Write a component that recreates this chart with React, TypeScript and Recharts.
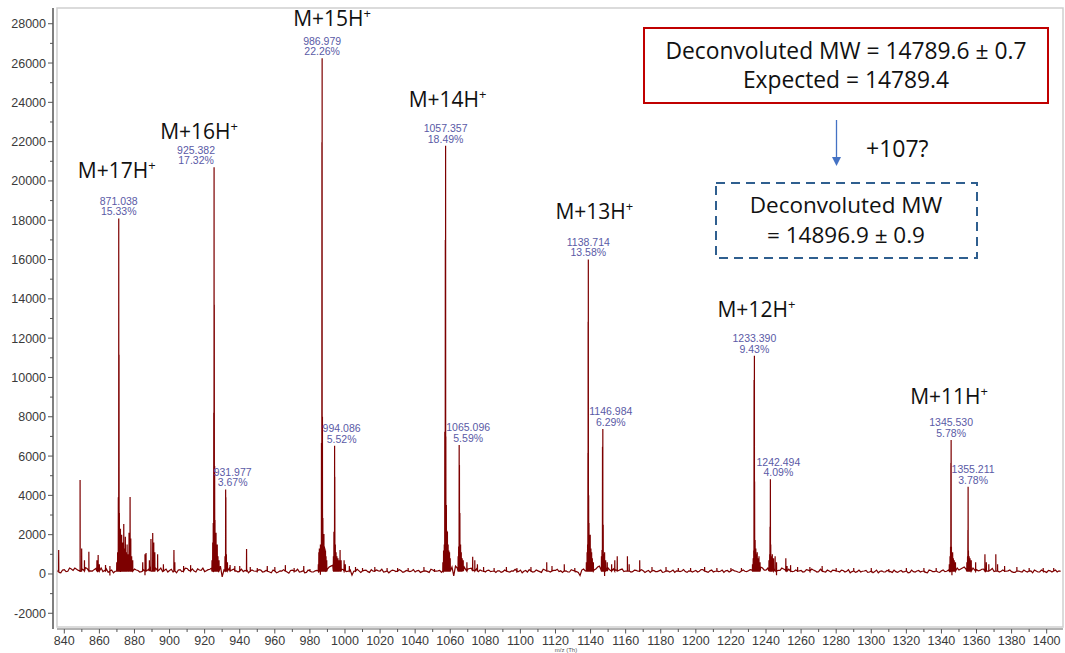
import React from 'react';
import { ComposedChart, Line, Scatter, XAxis, YAxis, ReferenceArea, ReferenceLine } from 'recharts';

// ---------- data ----------
// baseline noise, one value every 2 m/z starting at 836 (even) and 837 (odd)
const NOISE_STEP = 2;
const EVEN_START = 836;
const noiseEven: number[] = [
  150, 60, 220, 140, 250, 300, 180, 260, 320, 200, 150, 280, 200, 120, 250, -80, 60, 220, 100, 250,
  300, 400, 250, 180, 120, -60, 240, 150, 300, 200, 120, 250, 180, 100, 60, 220, 250, 280, 200, 150,
  260, 180, 120, 220, 300, 350, 120, -150, 160, 280, 220, 160, 200, 120, 220, 100, 150, 80, 200, 120,
  140, 60, 180, 100, 150, 120, 40, 200, 150, 100, 160, 80, 130, 100, 180, -40, 300, 250, 400, 500,
  350, 250, 200, 150, -60, 100, 160, 120, 200, 80, 140, 200, 150, 100, 220, 140, 180, 100, 160, 120,
  200, 150, 100, 180, 120, 160, 80, 200, 150, 180, 120, 300, 250, -100, 300, 200, 350, 250, 300, 180,
  120, 160, 100, 200, 140, 80, 160, 120, 180, 100, 150, 60, 200, 140, 100, 180, 120, 160, 80, 200,
  150, 220, 180, 120, 80, 160, 100, 180, 120, -80, 250, 150, 300, 200, 350, 200, -100, 300, 200, 220,
  180, 250, 150, 200, 120, 180, 100, 160, 140, 80, 180, 120, 200, 100, 160, 140, 80, 200, 150, 120,
  160, 100, 180, 140, 220, 120, 160, 100, 200, 140, 80, 180, 120, 160, 100, 180, 140, 160, 200, 300,
  250, 300, 200, 250, 300, -60, 180, 250, 150, 200, 140, 100, 180, 120, 200, 250, 160, 120, 180, 100,
  150, 200, 120, 100, 180, 140, 60, 160, 120, 100, 150, 80, 140, 120, 60, 160, 100, 140, 80, 120,
  140, 100, 160, 80, 120, 150, 100, 140, 60, 180, 120, 100, 160, 120, 200, -60, 250, 200, 300, 250,
  200, 300, 220, 180, 250, 160, 200, 120, 180, 140, 100, 160, 120, 80, 150, 100, 140, 120, 60, 150,
  100, 140, 80, 160, 120, 100, 140,
];
const ODD_START = 837;
const noiseOdd: number[] = [
  80, 200, 120, 300, 180, 240, 100, 200, 280, 160, 220, 120, 300, 180, 80, 200, 140, 260, 300, 350,
  400, 300, 200, 100, 220, 160, 280, 120, 200, 300, 180, 100, 240, 160, 200, 120, 300, 180, 260, 100,
  200, 300, 160, 240, 100, 300, 400, 200, 120, 180, 260, 100, 240, 180, 60, 200, 140, 220, 100, 180,
  100, 200, 60, 160, 220, 100, 180, 80, 240, 120, 60, 200, 100, 160, 60, 200, 140, 350, 450, 400,
  300, 220, 120, 200, 140, 240, 80, 180, 120, 220, 100, 160, 240, 120, 60, 200, 120, 220, 80, 180,
  120, 220, 160, 80, 200, 120, 240, 100, 160, 80, 200, 150, 350, 400, 250, 300, 200, 280, 200, 260,
  200, 100, 180, 120, 220, 160, 80, 200, 120, 160, 240, 120, 60, 180, 220, 100, 200, 120, 240, 160,
  100, 180, 240, 160, 200, 100, 220, 140, 80, 200, 160, 300, 200, 250, 400, 300, 250, 200, 260, 180,
  220, 120, 240, 100, 200, 140, 220, 80, 180, 200, 120, 160, 80, 220, 100, 200, 160, 120, 220, 80,
  200, 140, 100, 220, 160, 80, 200, 140, 120, 200, 160, 100, 220, 140, 80, 200, 120, 220, 300, 250,
  350, 200, 300, 200, 250, 180, 300, 200, 240, 120, 200, 160, 100, 220, 140, 200, 100, 240, 120, 200,
  100, 180, 140, 200, 100, 220, 120, 80, 200, 140, 180, 100, 60, 200, 140, 100, 180, 120, 200, 80,
  180, 120, 60, 200, 100, 180, 140, 80, 200, 120, 160, 80, 200, 140, 100, 250, 300, 250, 350, 300,
  250, 200, 160, 240, 120, 200, 280, 160, 100, 200, 140, 200, 80, 180, 120, 200, 100, 160, 200, 100,
  200, 120, 180, 100, 200, 160,
];

// [m/z, intensity] sticks
const minorPeaks: [number, number][] = [
  [836.8, 1220], [849.0, 4785], [849.9, 1300], [851.5, 700], [854.0, 1135], [858.6, 700], [859.3, 970],
  [860.0, 500], [863.5, 450], [866.0, 400], [884.7, 600], [886.0, 1000], [886.6, 1070], [888.5, 700],
  [889.4, 1780], [890.4, 2085], [891.0, 1600], [891.6, 1100], [893.2, 1000], [896.5, 500], [902.5, 1220],
  [903.0, 600], [908.0, 400], [912.0, 450],
];
const cluster17: [number, number][] = [
  [869.9, 600], [870.4, 1100], [870.8, 3900], [871.038, 18090], [871.2, 11150], [871.4, 3100], [871.7, 1500],
  [872.0, 2300], [872.3, 1400], [872.7, 2000], [873.0, 1200], [873.4, 1600], [873.9, 2545], [874.3, 1300],
  [874.8, 1900], [875.3, 1100], [875.8, 1500], [876.4, 1000], [876.9, 2100], [877.5, 3920], [877.9, 1800],
  [878.4, 900], [879.0, 700],
];
const cluster16: [number, number][] = [
  [924.2, 700], [924.6, 1600], [924.9, 2600], [925.2, 8200], [925.382, 20700], [925.5, 13700], [925.7, 5500],
  [925.9, 2750], [926.2, 1800], [926.5, 2100], [926.8, 1300], [927.2, 1500], [927.6, 900], [928.2, 700],
  [931.6, 900], [931.977, 4300], [932.1, 3900], [932.4, 1000], [933.0, 600], [934.5, 450], [937.2, 400],
  [940.0, 400], [943.9, 1270], [946.0, 350], [950.0, 300], [955.7, 400], [960.0, 350], [966.0, 450],
  [971.0, 300], [976.5, 400], [980.0, 250],
];
const cluster15: [number, number][] = [
  [984.8, 500], [985.1, 1100], [985.4, 1300], [985.7, 1250], [986.0, 1500], [986.3, 1400], [986.6, 6670],
  [986.85, 21970], [986.979, 26245], [987.15, 8000], [987.4, 2850], [987.7, 1600], [988.0, 2030], [988.3, 1400],
  [988.6, 1300], [988.9, 1200], [989.2, 900], [989.6, 700],
  [993.4, 900], [993.7, 2150], [994.086, 6530], [994.2, 4950], [994.5, 1500], [994.9, 1100], [995.4, 900],
  [996.0, 800], [996.6, 700], [997.2, 1220], [997.8, 700], [999.5, 700], [1000.2, 500], [1002.5, 400],
  [1006.0, 350], [1010.0, 300], [1017.0, 350], [1024.0, 300], [1030.0, 300], [1036.0, 300], [1045.0, 350],
  [1051.0, 250],
];
const cluster14: [number, number][] = [
  [1055.8, 600], [1056.2, 1200], [1056.6, 1500], [1056.9, 7240], [1057.2, 17000], [1057.357, 21785],
  [1057.5, 7000], [1057.8, 3510], [1058.1, 2200], [1058.4, 2150], [1058.8, 1500], [1059.2, 1200],
  [1059.6, 1100], [1060.0, 800],
  [1064.5, 900], [1064.8, 1400], [1065.096, 6566], [1065.25, 5550], [1065.5, 3100], [1065.9, 1500],
  [1066.3, 1100], [1066.8, 800], [1067.4, 700], [1069.5, 600], [1072.8, 880], [1074.0, 700], [1075.5, 500],
  [1079.0, 350], [1085.0, 300], [1092.0, 350], [1098.0, 300], [1106.0, 350], [1115.0, 600], [1118.0, 400],
  [1125.0, 500], [1131.0, 300],
];
const cluster13: [number, number][] = [
  [1137.6, 600], [1138.0, 1100], [1138.3, 1500], [1138.5, 6150], [1138.6, 12840], [1138.714, 16005],
  [1138.9, 4000], [1139.1, 2600], [1139.4, 1800], [1139.8, 2000], [1140.2, 1300], [1140.6, 1100],
  [1141.0, 800], [1141.6, 600],
  [1146.2, 900], [1146.5, 1220], [1146.8, 6480], [1146.984, 7382], [1147.2, 2500], [1147.5, 1000],
  [1148.0, 1100], [1148.6, 700], [1149.5, 600], [1152.0, 500], [1153.8, 700], [1155.2, 900], [1161.0, 900],
  [1162.0, 500], [1168.0, 700], [1175.0, 350], [1183.0, 350], [1190.0, 300], [1197.0, 300], [1205.0, 350],
  [1212.0, 300], [1220.0, 300], [1226.0, 300],
];
const cluster12: [number, number][] = [
  [1232.3, 500], [1232.7, 800], [1233.0, 1200], [1233.2, 9870], [1233.39, 11107], [1233.5, 4700],
  [1233.8, 1730], [1234.2, 1300], [1234.6, 1000], [1235.0, 1100], [1235.5, 800], [1236.0, 900], [1236.6, 600],
  [1241.7, 700], [1242.1, 1000], [1242.3, 2400], [1242.494, 4816], [1242.7, 1500], [1243.1, 900],
  [1243.6, 1000], [1244.3, 800], [1245.2, 900], [1246.0, 600], [1251.3, 800], [1252.0, 400], [1254.0, 450],
  [1258.0, 350], [1265.0, 350], [1272.0, 400], [1280.0, 300], [1290.0, 300], [1300.0, 300], [1310.0, 250],
  [1320.0, 300], [1330.0, 300], [1337.0, 300],
];
const cluster11: [number, number][] = [
  [1344.5, 500], [1344.9, 900], [1345.2, 1390], [1345.4, 5650], [1345.53, 6821], [1345.7, 1390],
  [1346.0, 1050], [1346.4, 1100], [1346.8, 800], [1347.3, 700], [1348.0, 600],
  [1354.5, 600], [1354.9, 900], [1355.1, 2240], [1355.211, 4440], [1355.4, 1200], [1355.8, 900],
  [1356.3, 800], [1357.0, 700], [1359.5, 600], [1364.8, 1000], [1365.6, 600], [1367.0, 500], [1371.0, 1000],
  [1372.0, 500], [1376.0, 400], [1383.0, 350], [1390.0, 300], [1398.0, 300], [1404.0, 300],
];

// labelled peaks: m/z, apex intensity, relative abundance
const labelledPeaks = [
  { mz: 871.038, y: 18090, mzText: '871.038', pct: '15.33%' },
  { mz: 925.382, y: 20700, mzText: '925.382', pct: '17.32%' },
  { mz: 931.977, y: 4300, mzText: '931.977', pct: '3.67%' },
  { mz: 986.979, y: 26245, mzText: '986.979', pct: '22.26%' },
  { mz: 994.086, y: 6530, mzText: '994.086', pct: '5.52%' },
  { mz: 1057.357, y: 21785, mzText: '1057.357', pct: '18.49%' },
  { mz: 1065.096, y: 6566, mzText: '1065.096', pct: '5.59%' },
  { mz: 1138.714, y: 16005, mzText: '1138.714', pct: '13.58%' },
  { mz: 1146.984, y: 7382, mzText: '1146.984', pct: '6.29%' },
  { mz: 1233.39, y: 11107, mzText: '1233.390', pct: '9.43%' },
  { mz: 1242.494, y: 4816, mzText: '1242.494', pct: '4.09%' },
  { mz: 1345.53, y: 6821, mzText: '1345.530', pct: '5.78%' },
  { mz: 1355.211, y: 4440, mzText: '1355.211', pct: '3.78%' },
];

// charge-state annotations
const ionLabels = [
  { ion: 'M+17H', mz: 871.038, y: 18090 },
  { ion: 'M+16H', mz: 925.382, y: 20700 },
  { ion: 'M+15H', mz: 986.979, y: 26245 },
  { ion: 'M+14H', mz: 1057.357, y: 21785 },
  { ion: 'M+13H', mz: 1138.714, y: 16005 },
  { ion: 'M+12H', mz: 1233.39, y: 11107 },
  { ion: 'M+11H', mz: 1345.53, y: 6821 },
];

const xTicks = [
  840, 850, 860, 870, 880, 890, 900, 910, 920, 930, 940, 950, 960, 970, 980, 990, 1000, 1010, 1020, 1030,
  1040, 1050, 1060, 1070, 1080, 1090, 1100, 1110, 1120, 1130, 1140, 1150, 1160, 1170, 1180, 1190, 1200,
  1210, 1220, 1230, 1240, 1250, 1260, 1270, 1280, 1290, 1300, 1310, 1320, 1330, 1340, 1350, 1360, 1370,
  1380, 1390, 1400,
];
const yTicks = [
  -2000, -1000, 0, 1000, 2000, 3000, 4000, 5000, 6000, 7000, 8000, 9000, 10000, 11000, 12000, 13000, 14000,
  15000, 16000, 17000, 18000, 19000, 20000, 21000, 22000, 23000, 24000, 25000, 26000, 27000, 28000,
];

// ---------- layout (pixels, not data) ----------
const peakLabelDx: Record<string, number> = {
  '871.038': 0, '925.382': -18, '931.977': 7, '986.979': 0, '994.086': 7, '1057.357': 0, '1065.096': 9,
  '1138.714': 0, '1146.984': 8, '1233.390': 0, '1242.494': 8, '1345.530': 0, '1355.211': 5,
};
const ionOffset: Record<string, [number, number]> = {
  'M+17H': [-2, -48], 'M+16H': [-15, -36], 'M+15H': [10, -40], 'M+14H': [2, -46],
  'M+13H': [6, -48], 'M+12H': [2, -46], 'M+11H': [-2, -43],
};

// ---------- build the line table ----------
type Pt = { mz: number; y: number };
const spectrum: Pt[] = (() => {
  const pts: Pt[] = [
    ...noiseEven.map((v, i) => ({ mz: EVEN_START + i * NOISE_STEP, y: v })),
    ...noiseOdd.map((v, i) => ({ mz: ODD_START + i * NOISE_STEP, y: v })),
  ];
  const all = [...minorPeaks, ...cluster17, ...cluster16, ...cluster15, ...cluster14, ...cluster13, ...cluster12, ...cluster11];
  all.forEach(([mz, h]) => {
    pts.push({ mz: mz - 0.07, y: 150 }, { mz, y: h }, { mz: mz + 0.07, y: 150 });
  });
  pts.sort((a, b) => a.mz - b.mz);
  return pts;
})();

const X_DOMAIN: [number, number] = [833.56, 1409.3];
const Y_DOMAIN: [number, number] = [-2800, 28800];
const FRAME_X0 = 835.84;

const TICK_FONT = '"Liberation Sans", Arial, sans-serif';
const ANNOT_FONT = '"Open Sans", "Noto Sans", sans-serif';

const XTick = (props: any) => {
  const { x, y, payload } = props;
  const v = payload.value as number;
  const major = v % 20 === 0;
  return (
    <g>
      <line x1={x} x2={x} y1={y} y2={y + (major ? 4.5 : 3)} stroke="#555" strokeWidth={1} />
      {major && (
        <text x={x} y={y + 15.5} textAnchor="middle" fontSize={12.5} fill="#3a3a3a" fontFamily={TICK_FONT}>
          {v}
        </text>
      )}
    </g>
  );
};

const YTick = (props: any) => {
  const { x, y, payload } = props;
  const v = payload.value as number;
  const major = v % 2000 === 0;
  return (
    <g>
      <line x1={x - (major ? 5 : 3)} x2={x} y1={y} y2={y} stroke="#555" strokeWidth={1} />
      {major && (
        <text x={x - 7} y={y + 4.5} textAnchor="end" fontSize={12.5} fill="#3a3a3a" fontFamily={TICK_FONT}>
          {v}
        </text>
      )}
    </g>
  );
};

const PeakLabel = (props: any) => {
  const { cx, cy, payload } = props;
  if (cx == null || cy == null) return null;
  const dx = peakLabelDx[payload.mzText] ?? 0;
  return (
    <g>
      <text x={cx + dx} y={cy - 13.5} textAnchor="middle" fontSize={10.5} fill="#5a5aa6" fontFamily={TICK_FONT}>
        {payload.mzText}
      </text>
      <text x={cx + dx} y={cy - 3} textAnchor="middle" fontSize={10.5} fill="#5a5aa6" fontFamily={TICK_FONT}>
        {payload.pct}
      </text>
    </g>
  );
};

const IonLabel = (props: any) => {
  const { cx, cy, payload } = props;
  if (cx == null || cy == null) return null;
  const [dx, dy] = ionOffset[payload.ion] ?? [0, -45];
  return (
    <text x={cx + dx} y={cy + dy + 7.5} textAnchor="middle" fontSize={21} fill="#111" fontFamily={ANNOT_FONT}>
      {payload.ion}
      <tspan fontSize={13} dy={-8}>+</tspan>
    </text>
  );
};

export default function App() {
  return (
    <div style={{ position: 'absolute', left: 0, top: 0, width: 1065, height: 653, background: '#fff', overflow: 'hidden' }}>
      <ComposedChart width={1065} height={653} data={spectrum} margin={{ top: 8, right: 2, bottom: 0, left: 0 }}>
        <ReferenceArea
          x1={FRAME_X0}
          x2={X_DOMAIN[1]}
          y1={-2698}
          y2={Y_DOMAIN[1]}
          fill="none"
          stroke="#cfcfcf"
          strokeWidth={1.5}
          ifOverflow="visible"
        />
        <XAxis
          dataKey="mz"
          type="number"
          domain={X_DOMAIN}
          allowDataOverflow
          ticks={xTicks}
          interval={0}
          tick={<XTick />}
          tickLine={false}
          tickSize={0}
          tickMargin={0}
          axisLine={false}
          height={24}
        />
        <YAxis
          type="number"
          domain={Y_DOMAIN}
          allowDataOverflow
          ticks={yTicks}
          interval={0}
          tick={<YTick />}
          tickLine={false}
          tickSize={0}
          tickMargin={0}
          axisLine={{ stroke: '#555', strokeWidth: 1.5 }}
          width={53}
        />
        <ReferenceLine
          segment={[{ x: FRAME_X0, y: Y_DOMAIN[0] }, { x: X_DOMAIN[1], y: Y_DOMAIN[0] }]}
          stroke="#666"
          strokeWidth={1}
          ifOverflow="visible"
        />
        <Line
          dataKey="y"
          type="linear"
          stroke="#7d0000"
          strokeWidth={1.2}
          dot={false}
          activeDot={false}
          isAnimationActive={false}
        />
        <Scatter data={labelledPeaks} dataKey="y" shape={<PeakLabel />} isAnimationActive={false} />
        <Scatter data={ionLabels} dataKey="y" shape={<IonLabel />} isAnimationActive={false} />
      </ComposedChart>
      <svg width={1065} height={653} style={{ position: 'absolute', left: 0, top: 0, pointerEvents: 'none' }}>
        <rect x={644} y={28} width={404} height={75} fill="#fff" stroke="#c00000" strokeWidth={2} />
        <text x={846} y={59} textAnchor="middle" fontSize={22.8} fill="#111" fontFamily={ANNOT_FONT}>
          Deconvoluted MW = 14789.6 ± 0.7
        </text>
        <text x={846} y={88} textAnchor="middle" fontSize={22.8} fill="#111" fontFamily={ANNOT_FONT}>
          Expected = 14789.4
        </text>
        <line x1={836.5} y1={120} x2={836.5} y2={158} stroke="#4472c4" strokeWidth={1.3} />
        <polygon points="832,157 841,157 836.5,166" fill="#4472c4" />
        <text x={866} y={157} fontSize={23} fill="#111" fontFamily={ANNOT_FONT}>
          +107?
        </text>
        <rect x={716} y={183} width={261} height={75} fill="none" stroke="#2f5f8f" strokeWidth={2} strokeDasharray="9 6" />
        <text x={846} y={213} textAnchor="middle" fontSize={22.5} fill="#111" fontFamily={ANNOT_FONT}>
          Deconvoluted MW
        </text>
        <text x={846} y={243} textAnchor="middle" fontSize={22.5} fill="#111" fontFamily={ANNOT_FONT}>
          = 14896.9 ± 0.9
        </text>
        <text x={566} y={652.4} textAnchor="middle" fontSize={6} fill="#555" fontFamily={TICK_FONT}>
          m/z (Th)
        </text>
      </svg>
    </div>
  );
}
